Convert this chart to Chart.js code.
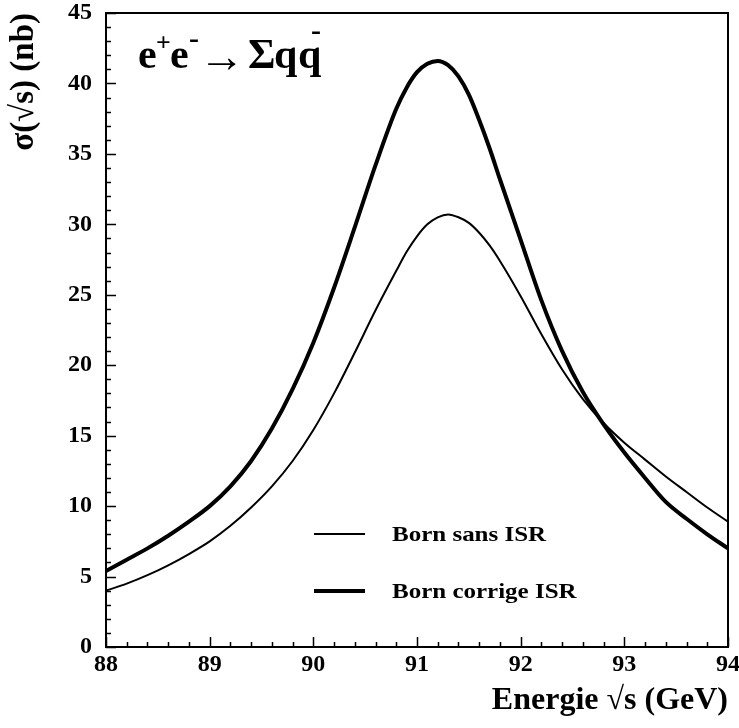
<!DOCTYPE html>
<html>
<head>
<meta charset="utf-8">
<script src="https://cdn.jsdelivr.net/npm/chart.js@4.4.0/dist/chart.umd.min.js"></script>
<style>
  body { margin: 0; background: #fff; }
  #wrap { width: 739px; height: 728px; position: relative; }
</style>
</head>
<body>
<div id="wrap"><canvas id="myChart"></canvas></div>
<script>
// Energy points (GeV)
const energies = [88.0, 88.2, 88.4, 88.6, 88.8, 89.0, 89.2, 89.4, 89.6, 89.8,
                  90.0, 90.2, 90.4, 90.6, 90.8, 90.9, 91.0, 91.1, 91.2, 91.3,
                  91.4, 91.5, 91.6, 91.7, 91.8, 92.0, 92.2, 92.4, 92.6, 92.8,
                  93.0, 93.2, 93.4, 93.6, 93.8, 94.0];

// Born sans ISR (thin line), nb
const bornSansISR = [4.0, 4.5, 5.1, 5.8, 6.6, 7.5, 8.6, 9.9, 11.4, 13.2,
                     15.4, 18.0, 20.9, 23.9, 26.7, 28.05, 29.15, 30.0, 30.5, 30.7,
                     30.5, 30.1, 29.4, 28.5, 27.4, 24.9, 22.2, 19.7, 17.6, 15.9,
                     14.5, 13.3, 12.1, 11.0, 9.9, 8.9];

// Born corrige ISR (thick line), nb
const bornCorrigeISR = [5.4, 6.2, 7.0, 7.9, 8.9, 10.0, 11.4, 13.2, 15.5, 18.3,
                        21.6, 25.5, 29.8, 34.2, 38.2, 39.7, 40.8, 41.4, 41.6, 41.3,
                        40.5, 39.2, 37.4, 35.4, 33.2, 28.9, 24.6, 21.0, 18.1, 15.8,
                        13.8, 12.0, 10.3, 9.1, 8.0, 7.0];

const legendLabels = ['Born sans ISR', 'Born corrige ISR'];

const SERIF = '"Liberation Serif", "Times New Roman", serif';

function toPoints(ys) {
    return energies.map((e, i) => ({ x: e, y: ys[i] }));
}

// Draws the frame, inward ticks, legend and process label
const decorPlugin = {
    id: 'decor',
    afterDraw(chart) {
        const ctx = chart.ctx;
        const a = chart.chartArea;
        const xs = chart.scales.x;
        const ys = chart.scales.y;
        ctx.save();
        ctx.strokeStyle = '#000';
        ctx.lineWidth = 2;
        ctx.strokeRect(a.left, a.top, a.right - a.left, a.bottom - a.top);

        // x ticks, every 0.2 GeV
        ctx.beginPath();
        for (let i = 0; i <= 30; i++) {
            const px = Math.round(xs.getPixelForValue(88 + i * 0.2)) + 0.5;
            const len = i % 5 === 0 ? 10 : 5;
            ctx.moveTo(px, a.bottom);
            ctx.lineTo(px, a.bottom - len);
        }
        // y ticks, every 1 nb
        for (let v = 0; v <= 45; v++) {
            const py = Math.round(ys.getPixelForValue(v)) + 0.5;
            const len = v % 5 === 0 ? 10 : 5;
            ctx.moveTo(a.left, py);
            ctx.lineTo(a.left + len, py);
        }
        ctx.lineWidth = 1.5;
        ctx.stroke();

        // legend
        const ds = chart.data.datasets;
        const lx0 = a.left + 208, lx1 = a.left + 259;
        const rows = [534, 591];
        ctx.fillStyle = '#000';
        ctx.textBaseline = 'middle';
        ctx.textAlign = 'left';
        ds.forEach((d, i) => {
            ctx.beginPath();
            ctx.lineWidth = d.borderWidth;
            ctx.moveTo(lx0, rows[i]);
            ctx.lineTo(lx1, rows[i]);
            ctx.stroke();
            ctx.save();
            ctx.translate(a.left + 286, rows[i] + 2);
            ctx.scale(1.19, 1);
            ctx.font = 'bold 21px ' + SERIF;
            ctx.fillText(d.label, 0, 0);
            ctx.restore();
        });

        // process label e+e- -> Sum q qbar
        ctx.textBaseline = 'alphabetic';
        const base = 68;
        ctx.font = 'bold 42px ' + SERIF;
        ctx.fillText('e', 138, base);
        ctx.fillText('e', 170, base);
        ctx.fillText('\u03a3', 248, base);
        ctx.fillText('q', 274, base);
        ctx.fillText('q', 298, base);
        ctx.font = 'bold 26px ' + SERIF;
        ctx.fillText('+', 156, base - 17);
        ctx.font = 'bold 30px ' + SERIF;
        ctx.fillText('-', 189, base - 20);
        ctx.fillText('-', 311, base - 28);
        ctx.font = '46px ' + SERIF;
        ctx.fillText('\u2192', 199, base + 4);
        ctx.restore();
    }
};

function renderChart() {
    const ctx = document.getElementById('myChart').getContext('2d');
    new Chart(ctx, {
        type: 'line',
        data: {
            datasets: [{
                label: legendLabels[0],
                data: toPoints(bornSansISR),
                borderColor: '#000',
                borderWidth: 2,
                pointRadius: 0,
                fill: false,
                cubicInterpolationMode: 'monotone'
            }, {
                label: legendLabels[1],
                data: toPoints(bornCorrigeISR),
                borderColor: '#000',
                borderWidth: 4,
                pointRadius: 0,
                fill: false,
                cubicInterpolationMode: 'monotone'
            }]
        },
        options: {
            responsive: true,
            maintainAspectRatio: false,
            animation: false,
            layout: { padding: { left: 0, right: 11, top: 13, bottom: 0 } },
            scales: {
                x: {
                    type: 'linear',
                    min: 88,
                    max: 94,
                    afterFit: s => { s.height = 81; s.paddingLeft = 0; s.paddingRight = 0; },
                    grid: { display: false, drawTicks: false },
                    border: { display: false },
                    ticks: {
                        stepSize: 1,
                        padding: 3,
                        color: '#000',
                        font: { family: SERIF, size: 24, weight: 'bold' }
                    },
                    title: {
                        display: true,
                        text: 'Energie \u221as (GeV)',
                        align: 'end',
                        color: '#000',
                        padding: { bottom: 8 },
                        font: { family: SERIF, size: 32, weight: 'bold' }
                    }
                },
                y: {
                    min: 0,
                    max: 45,
                    afterFit: s => { s.width = 106; s.paddingTop = 0; s.paddingBottom = 0; },
                    grid: { display: false, drawTicks: false },
                    border: { display: false },
                    ticks: {
                        stepSize: 5,
                        padding: 14,
                        color: '#000',
                        font: { family: SERIF, size: 24, weight: 'bold' }
                    },
                    title: {
                        display: true,
                        text: '\u03c3(\u221as) (nb)',
                        align: 'end',
                        color: '#000',
                        padding: { top: 5 },
                        font: { family: SERIF, size: 33, weight: 'bold' }
                    }
                }
            },
            plugins: {
                legend: { display: false },
                tooltip: { enabled: false }
            }
        },
        plugins: [decorPlugin]
    });
}

window.onload = renderChart;
</script>
</body>
</html>
